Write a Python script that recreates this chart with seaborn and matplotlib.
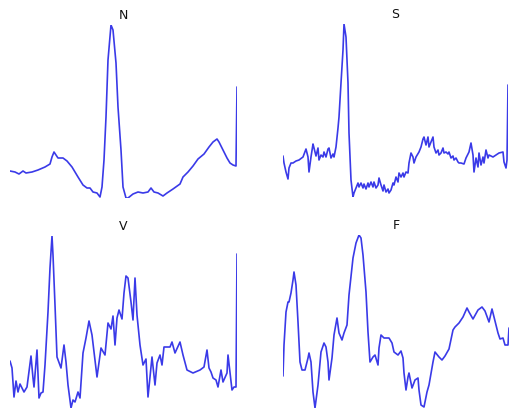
import matplotlib
matplotlib.use("Agg")
import matplotlib.pyplot as plt
import seaborn as sns

sns.set_theme(style="white")
plt.rcParams['font.family'] = ['DejaVu Sans']

# ---- data (time in samples, amplitude in arbitrary units) ----
n_t = [0, 5, 9, 13, 16, 22, 28, 35, 40, 42, 44, 48, 53, 57, 62, 68, 73, 77, 80, 83,
       87, 90, 92, 94, 96, 98, 101, 103, 106, 108, 111, 113, 116, 118, 123, 128, 133, 138, 141, 144,
       148, 153, 157, 163, 170, 173, 178, 183, 188, 194, 199, 203, 207, 209, 213, 217, 220, 223, 226, 227]
n_a = [.27, .26, .24, .27, .25, .26, .28, .31, .34, .41, .46, .40, .40, .37, .31, .21, .13, .10, .10, .06,
       .05, .01, .11, .38, .81, 1.38, 1.73, 1.68, 1.35, .91, .48, .11, 0, 0, .04, .06, .05, .06, .10, .06,
       .05, .02, .05, .09, .14, .21, .26, .32, .39, .44, .51, .56, .59, .56, .48, .40, .35, .33, .32, 1.11]

s_t = [0, 1, 3, 5, 6, 8, 10, 13, 16, 20, 23, 25, 26, 28, 30, 31, 33, 35, 36, 38,
       40, 41, 43, 45, 46, 48, 50, 51, 53, 55, 56, 58, 60, 61, 63, 65, 66, 68, 70, 71,
       73, 75, 76, 78, 80, 81, 83, 85, 86, 88, 90, 91, 93, 95, 96, 98, 100, 101, 103, 105,
       106, 108, 110, 111, 113, 115, 116, 118, 120, 121, 123, 125, 126, 128, 130, 131, 133, 136, 138, 140,
       141, 143, 145, 146, 148, 150, 151, 153, 155, 156, 158, 160, 161, 163, 165, 166, 168, 170, 171, 173,
       175, 176, 178, 181, 183, 186, 188, 190, 191, 193, 195, 196, 198, 200, 201, 203, 205, 206, 210, 213,
       216, 220, 221, 223, 224, 225]
s_a = [.41, .34, .25, .18, .29, .34, .34, .36, .37, .40, .48, .40, .25, .40, .53, .49, .41, .49, .37, .42,
       .40, .45, .40, .48, .49, .39, .43, .40, .50, .69, .80, 1.14, 1.47, 1.73, 1.60, 1.14, .64, .17, 0, .04,
       .09, .14, .10, .14, .09, .13, .08, .14, .10, .15, .10, .15, .09, .12, .19, .12, .06, .12, .05, .08,
       .04, .07, .14, .12, .20, .15, .24, .20, .24, .20, .25, .24, .34, .44, .40, .34, .40, .45, .50, .58,
       .60, .52, .60, .50, .55, .60, .50, .44, .47, .42, .44, .49, .44, .45, .43, .45, .39, .41, .37, .39,
       .35, .34, .34, .33, .39, .45, .54, .42, .25, .39, .30, .44, .32, .40, .34, .47, .39, .42, .40, .42,
       .44, .45, .35, .29, .37, 1.12]

v_t = [0, 2, 4, 6, 8, 10, 12, 14, 17, 21, 23, 24, 27, 29, 31, 33, 35, 38, 40, 42,
       43, 45, 47, 51, 54, 56, 58, 61, 63, 65, 68, 70, 73, 76, 79, 82, 87, 91, 95, 98,
       101, 103, 105, 107, 109, 112, 114, 116, 118, 121, 123, 125, 127, 130, 133, 136, 138, 142, 145, 147,
       150, 152, 154, 157, 160, 162, 165, 170, 173, 177, 183, 190, 194, 197, 199, 201, 203, 206, 208, 211,
       213, 217, 218, 222, 224, 226, 227]
v_a = [.47, .40, .11, .27, .16, .24, .20, .16, .21, .52, .30, .21, .58, .10, .15, .16, .43, .96, 1.40, 1.72,
       1.53, 1.03, .51, .40, .63, .46, .23, 0, .08, .06, .16, .10, .55, .70, .87, .73, .31, .60, .53, .85,
       .79, .92, .63, .90, .98, .89, 1.15, 1.32, 1.30, 1.06, .88, 1.30, .93, .63, .43, .49, .11, .51, .23, .45,
       .53, .43, .61, .61, .61, .66, .55, .66, .53, .38, .35, .38, .41, .58, .40, .36, .30, .28, .21, .38,
       .26, .35, .53, .18, .21, .21, 1.54]

f_t = [0, 1, 3, 5, 6, 8, 10, 11, 13, 15, 17, 19, 22, 25, 26, 28, 30, 32, 35, 38,
       41, 43, 45, 46, 49, 51, 54, 56, 59, 61, 64, 66, 70, 73, 76, 78, 80, 83, 85, 87,
       90, 92, 95, 96, 98, 101, 106, 109, 111, 115, 118, 120, 121, 123, 125, 126, 129, 132, 135, 136,
       138, 141, 144, 146, 150, 152, 156, 159, 162, 166, 170, 172, 176, 180, 184, 186, 190, 195, 199, 202,
       206, 209, 211, 215, 217, 220, 222, 225, 226]
f_a = [.32, .63, .96, 1.06, 1.06, 1.15, 1.28, 1.36, 1.23, .86, .46, .38, .38, .50, .55, .46, .16, 0, .23, .56,
       .65, .61, .46, .28, .50, .73, .90, .75, .68, .75, .83, 1.13, 1.50, 1.65, 1.73, 1.70, 1.53, 1.16, .76, .46,
       .51, .53, .43, .60, .73, .70, .70, .65, .56, .53, .57, .50, .35, .18, .31, .35, .20, .28, .30, .18,
       .03, .01, .16, .23, .46, .56, .51, .48, .52, .59, .78, .81, .85, .91, 1.00, .96, .89, .98, 1.01, .97,
       .86, .99, .91, .75, .69, .70, .63, .63, .80]

titles = ["N", "S", "V", "F"]
series = [(n_t, n_a), (s_t, s_a), (v_t, v_a), (f_t, f_a)]

W, H = 512, 411
fig = plt.figure(figsize=(W / 100, H / 100), dpi=100)
fig.patch.set_facecolor("white")

# axes boxes in pixels: (left, top, right, bottom)
boxes = [(10, 25, 237, 198), (283, 24, 508, 197), (10, 236, 237, 408), (283, 235, 509, 408)]

line_color = "#3a3ae8"
for (t, a), title, (l, tp, r, b) in zip(series, titles, boxes):
    assert len(t) == len(a), title
    ax = fig.add_axes([l / W, 1 - b / H, (r - l) / W, (b - tp) / H])
    sns.lineplot(x=t, y=a, ax=ax, color=line_color, linewidth=1.2,
                 estimator=None, sort=False)
    ax.set_xlim(min(t), max(t))
    ax.set_ylim(min(a), max(a))
    ax.axis("off")
    ax.set_title(title, fontsize=9, color="#111111", pad=4)

fig.savefig("out.png", dpi=100, facecolor="white")
